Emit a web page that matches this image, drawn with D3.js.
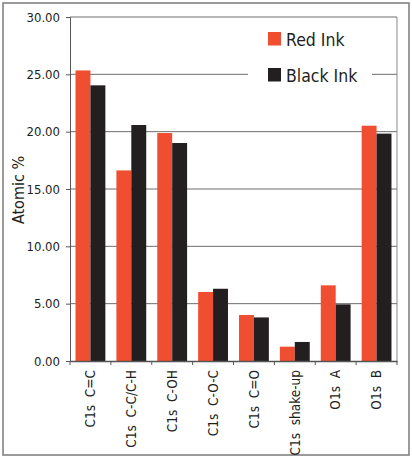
<!DOCTYPE html>
<html>
<head>
<meta charset="utf-8">
<script src="https://cdn.jsdelivr.net/npm/d3@7"></script>
<style>
  body { margin: 0; background: #fff; }
  svg text { font-family: "Liberation Sans Narrow", "DejaVu Sans Condensed", sans-serif; fill: #231f20; }
</style>
</head>
<body>
<div id="chart"></div>
<script>
// Data
var categories = ["C1s  C=C", "C1s  C-C/C-H", "C1s  C-OH", "C1s  C-O-C", "C1s  C=O", "C1s  shake-up", "O1s  A", "O1s  B"];
var seriesNames = ["Red Ink", "Black Ink"];
var redInk = [25.34, 16.62, 19.88, 6.02, 4.01, 1.25, 6.60, 20.52];
var blackInk = [24.04, 20.58, 19.01, 6.30, 3.80, 1.66, 4.94, 19.83];
var yTicks = [0, 5, 10, 15, 20, 25, 30];
var colors = ["#f04e30", "#231f20"];

var width = 412, height = 459;
var margin = {top: 17, right: 15, bottom: 98, left: 70};
var plotW = width - margin.left - margin.right;
var plotH = height - margin.top - margin.bottom;

var svg = d3.select("#chart")
  .append("svg")
    .attr("width", width)
    .attr("height", height);

// Outer frame
svg.append("rect")
  .attr("x", 3).attr("y", 3)
  .attr("width", 406).attr("height", 452)
  .attr("fill", "none")
  .attr("stroke", "#7a7a7a")
  .attr("stroke-width", 1.5);

var g = svg.append("g")
  .attr("transform", "translate(" + margin.left + "," + margin.top + ")");

// Scales
var x = d3.scaleBand().domain(categories).range([0, plotW]);
var x1 = d3.scaleBand().domain(seriesNames).range([0, x.bandwidth()]).paddingInner(0).paddingOuter(0.37);
var y = d3.scaleLinear().domain([0, 30]).range([plotH, 0]);

// Gridlines
g.selectAll(".grid")
  .data(yTicks.filter(function(d) { return d > 0; }))
  .enter().append("line")
    .attr("class", "grid")
    .attr("x1", 0).attr("x2", plotW)
    .attr("y1", function(d) { return y(d); })
    .attr("y2", function(d) { return y(d); })
    .attr("stroke", "#6d6d6d")
    .attr("stroke-width", 1);

// Right edge of the plot area
g.append("line")
  .attr("x1", plotW).attr("x2", plotW)
  .attr("y1", 0).attr("y2", plotH)
  .attr("stroke", "#8a8a8a");

// Legend (white box breaks the gridline)
var legend = g.append("g").attr("transform", "translate(178,6)");
legend.append("rect")
  .attr("x", 0).attr("y", 0)
  .attr("width", 124).attr("height", 78)
  .attr("fill", "#fff");
seriesNames.forEach(function(name, i) {
  legend.append("rect")
    .attr("x", 20).attr("y", 9 + i * 36)
    .attr("width", 13).attr("height", 13.5)
    .attr("fill", colors[i]);
  legend.append("text")
    .attr("x", 38).attr("y", 22.5 + i * 36)
    .style("font-size", "17.5px")
    .text(name);
});

// Bars
var groups = g.selectAll(".cat")
  .data(categories)
  .enter().append("g")
    .attr("class", "cat")
    .attr("transform", function(d) { return "translate(" + x(d) + ",0)"; });

groups.selectAll("rect")
  .data(function(d, i) { return [redInk[i], blackInk[i]].map(function(v, j) { return {name: seriesNames[j], value: v}; }); })
  .enter().append("rect")
    .attr("x", function(d) { return x1(d.name); })
    .attr("width", x1.bandwidth())
    .attr("y", function(d) { return y(d.value); })
    .attr("height", function(d) { return plotH - y(d.value); })
    .attr("fill", function(d, j) { return colors[j]; });

// Y axis
var yAxis = d3.axisLeft(y)
  .tickValues(yTicks)
  .tickSize(4)
  .tickPadding(6)
  .tickFormat(d3.format(".2f"));
var yg = g.append("g").call(yAxis);
yg.select(".domain").attr("stroke", "#555");
yg.selectAll(".tick line").attr("stroke", "#555");
yg.selectAll("text").style("font-size", "13px").attr("fill", "#231f20");

// X axis
var xAxis = d3.axisBottom(x).tickSize(0).tickPadding(0);
var xg = g.append("g")
  .attr("transform", "translate(0," + plotH + ")")
  .call(xAxis);
xg.select(".domain").attr("stroke", "#555").attr("stroke-width", 1.5);
xg.selectAll("text")
  .style("font-size", "13.5px")
  .style("white-space", "pre")
  .attr("fill", "#231f20")
  .attr("text-anchor", "end")
  .attr("dy", "0.35em")
  .attr("transform", "translate(0,9) rotate(-90)");

// Tick marks between categories
g.selectAll(".xtick")
  .data(d3.range(categories.length + 1))
  .enter().append("line")
    .attr("x1", function(i) { return i * x.step(); })
    .attr("x2", function(i) { return i * x.step(); })
    .attr("y1", plotH).attr("y2", plotH + 4)
    .attr("stroke", "#555");

// Y title
g.append("text")
  .attr("transform", "translate(-46," + (plotH / 2 + 1) + ") rotate(-90)")
  .attr("text-anchor", "middle")
  .style("font-size", "16px")
  .text("Atomic %");
</script>
</body>
</html>
